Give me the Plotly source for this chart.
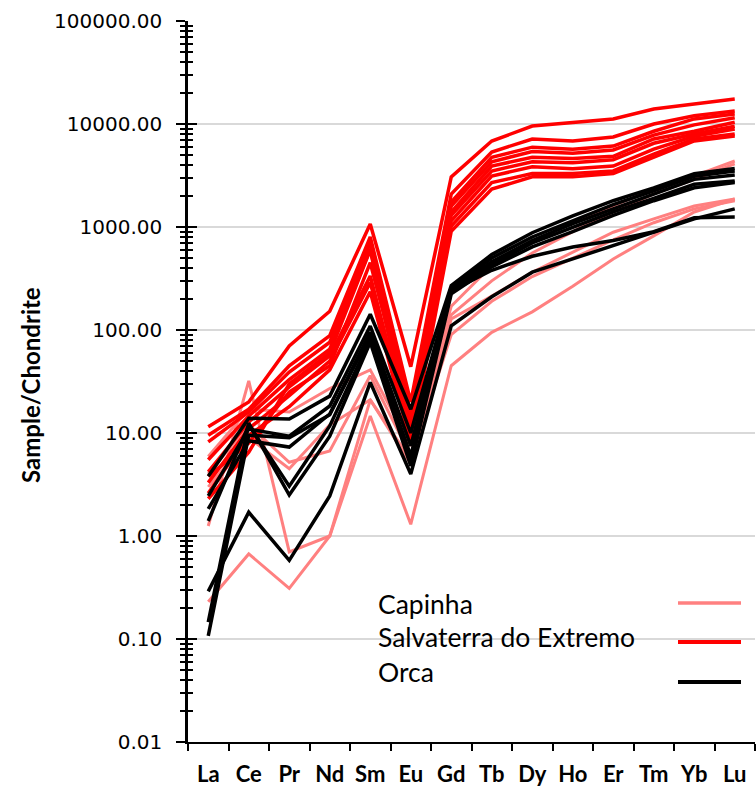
import plotly.graph_objects as go

ELEMENTS = ["La", "Ce", "Pr", "Nd", "Sm", "Eu", "Gd", "Tb", "Dy", "Ho", "Er", "Tm", "Yb", "Lu"]

Y_TICK_VALUES = [0.01, 0.1, 1, 10, 100, 1000, 10000, 100000]
Y_TICK_LABELS = ["0.01", "0.10", "1.00", "10.00", "100.00", "1000.00", "10000.00", "100000.00"]

# Capinha samples (chondrite-normalised REE)
capinha_1 = [5.9, 17, 16, 27, 41, 7.5, 170, 420, 715, 1100, 1600, 2330, 3140, 4370]
capinha_2 = [4.0, 12, 5.2, 6.7, 36, 6.0, 140, 300, 560, 900, 1400, 2100, 2900, 4100]
capinha_3 = [3.0, 9, 4.5, 12, 21, 5.0, 128, 213, 364, 570, 890, 1200, 1600, 1870]
capinha_4 = [1.25, 32, 0.70, 1.0, 14.6, 1.3, 45, 95, 150, 266, 490, 820, 1400, 1870]
capinha_5 = [0.23, 0.67, 0.31, 1.0, 21, 5.5, 90, 190, 330, 500, 750, 1100, 1500, 1800]

# Salvaterra do Extremo samples
salvaterra_1 = [11.5, 20, 70, 152, 1070, 44, 3060, 6840, 9550, 10400, 11200, 14000, 15600, 17500]
salvaterra_2 = [9.5, 17, 45, 88, 800, 20, 2090, 5350, 7150, 6840, 7480, 10000, 12000, 13400]
salvaterra_3 = [8.2, 16, 39, 76, 700, 15, 1750, 4750, 5960, 5700, 6100, 8500, 11200, 12500]
salvaterra_4 = [5.5, 14.6, 33, 65, 610, 12, 1400, 3900, 4750, 4620, 4860, 7150, 8500, 10400]
salvaterra_5 = [4.2, 12.8, 28, 56, 335, 10, 1150, 3120, 3850, 3670, 3900, 5700, 7600, 8940]
salvaterra_6 = [3.3, 11, 23, 50, 290, 9, 1020, 2700, 3300, 3300, 3500, 5100, 7150, 8000]
salvaterra_7 = [2.6, 9.5, 18, 41, 235, 8, 910, 2330, 3070, 3070, 3300, 4750, 6840, 7650]
salvaterra_8 = [3.8, 8, 25, 45, 450, 14, 1300, 3500, 4300, 4200, 4500, 6500, 8000, 9500]
salvaterra_9 = [2.3, 6.5, 30, 60, 600, 9, 1600, 4300, 5400, 5200, 5600, 7800, 9800, 11500]

# Orca samples
orca_1 = [3.8, 13.9, 13.7, 22.8, 142, 17, 270, 540, 880, 1280, 1800, 2400, 3300, 3700]
orca_2 = [2.45, 10.9, 9.3, 18.3, 109, 10, 255, 500, 800, 1150, 1650, 2250, 3100, 3500]
orca_3 = [1.83, 8.4, 7.3, 15.3, 95, 7.5, 245, 460, 740, 1080, 1500, 2100, 2900, 3200]
orca_4 = [1.4, 12, 3.05, 11.7, 81, 6, 235, 430, 700, 1000, 1400, 1900, 2600, 2800]
orca_5 = [0.146, 12.5, 2.5, 9.3, 76, 4.8, 225, 410, 640, 900, 1300, 1800, 2400, 2700]
orca_6 = [0.107, 9.5, 9.0, 15, 90, 5.5, 240, 380, 520, 640, 740, 900, 1230, 1250]
orca_7 = [0.29, 1.7, 0.58, 2.45, 31, 4.0, 110, 210, 364, 490, 650, 890, 1200, 1500]

GROUPS = [
    ("Capinha", "#FF8080", 3, [capinha_1, capinha_2, capinha_3, capinha_4, capinha_5]),
    ("Salvaterra do Extremo", "#FF0000", 3.5, [salvaterra_1, salvaterra_2, salvaterra_3, salvaterra_4,
                                              salvaterra_5, salvaterra_6, salvaterra_7, salvaterra_8, salvaterra_9]),
    ("Orca", "#000000", 3.5, [orca_1, orca_2, orca_3, orca_4, orca_5, orca_6, orca_7]),
]

fig = go.Figure()
for name, color, width, samples in GROUPS:
    for s in samples:
        fig.add_trace(go.Scatter(x=ELEMENTS, y=s, mode="lines", name=name,
                                 line=dict(color=color, width=width), showlegend=False,
                                 hoverinfo="skip"))

# invisible trace on the overlay axis (for crossing ticks)
fig.add_trace(go.Scatter(x=[ELEMENTS[0]], y=[1], yaxis="y2", mode="markers",
                         marker=dict(opacity=0), showlegend=False, hoverinfo="skip"))

TICK_FONT = dict(family="DejaVu Sans", size=20, color="#000000")

fig.update_layout(
    width=756, height=787,
    margin=dict(l=188, r=1, t=21, b=45),
    paper_bgcolor="white", plot_bgcolor="white",
    xaxis=dict(
        type="category", categoryorder="array", categoryarray=ELEMENTS,
        range=[-0.5, 13.5], showline=True, linecolor="black", linewidth=2,
        ticks="outside", ticklen=7, tickcolor="black", tickwidth=1.5,
        tickson="boundaries", showgrid=False, zeroline=False,
        tickfont=dict(family="Lato", size=22, color="#000000", weight="bold"),
        ticklabelstandoff=12,
    ),
    yaxis=dict(
        type="log", range=[-2, 5], tickmode="array",
        tickvals=Y_TICK_VALUES, ticktext=Y_TICK_LABELS,
        showline=True, linecolor="black", linewidth=2.5,
        ticks="outside", ticklen=9, tickcolor="black", tickwidth=1.5,
        showgrid=True, gridcolor="#D9D9D9", gridwidth=1.5, zeroline=False,
        tickfont=TICK_FONT, ticklabelstandoff=10,
        minor=dict(ticks="outside", ticklen=5, tickcolor="black", tickwidth=1.5,
                   dtick="D1", showgrid=False),
    ),
    yaxis2=dict(
        type="log", range=[-2, 5], dtick=1, overlaying="y", side="left",
        showline=False, ticks="inside", ticklen=9, tickcolor="black", tickwidth=1.5,
        showticklabels=False, showgrid=False, zeroline=False,
        minor=dict(ticks="inside", ticklen=5, tickcolor="black", tickwidth=1.5,
                   dtick="D1", showgrid=False),
    ),
)

# y-axis title
fig.add_annotation(text="<b>Sample/Chondrite</b>", xref="paper", yref="paper",
                   x=(30 - 188) / 567, y=(742 - 385) / 721, xanchor="center", yanchor="middle",
                   textangle=-90, showarrow=False,
                   font=dict(family="Lato", size=24, color="#000000"))

# Legend (Excel style: text left, line sample right)
LEGEND_TEXT_Y = [604, 637, 672]
LEGEND_LINE_Y = [603, 642, 682]
for (name, color, width, _), ty, ly in zip(GROUPS, LEGEND_TEXT_Y, LEGEND_LINE_Y):
    fig.add_annotation(text=name, xref="paper", yref="paper",
                       x=(376 - 188) / 567, y=1 - (ty - 21) / 721,
                       xanchor="left", yanchor="middle", showarrow=False,
                       font=dict(family="Lato", size=26.5, color="#000000"))
    fig.add_shape(type="line", xref="paper", yref="paper",
                  x0=(678 - 188) / 567, x1=(741 - 188) / 567,
                  y0=1 - (ly - 21) / 721, y1=1 - (ly - 21) / 721,
                  line=dict(color=color, width=width + 0.5))

fig.write_html("out.html")
